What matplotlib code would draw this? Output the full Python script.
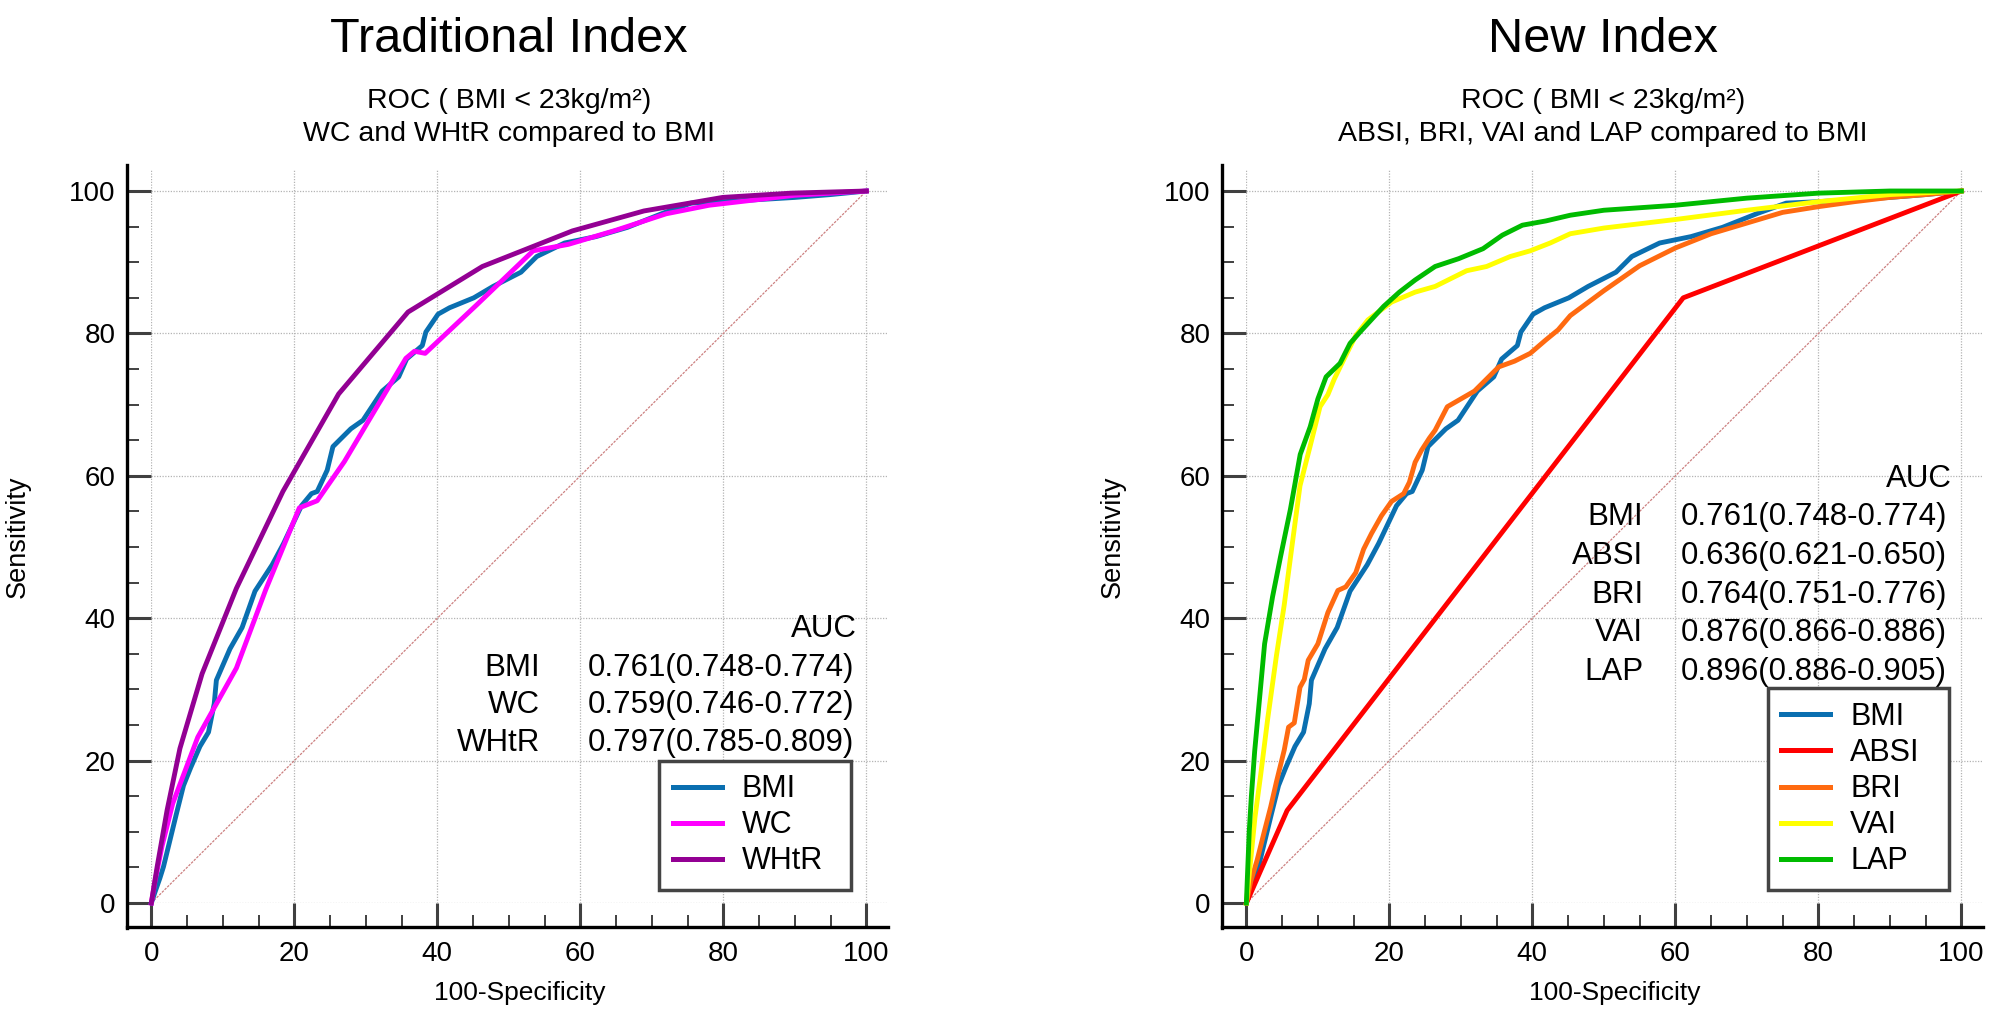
import numpy as np
import matplotlib.pyplot as plt
from matplotlib.lines import Line2D
from matplotlib.ticker import MultipleLocator

plt.rcParams['font.family'] = ['Liberation Sans', 'DejaVu Sans']

# ---- ROC points (100-Specificity, Sensitivity) ----
bmi_x = [0, 0.5, 1.2, 1.7, 2.6, 3.5, 4.5, 5.5, 6.8, 8.0, 8.8, 9.1, 11.0, 12.7, 14.5, 16.9,
         18.5, 21.0, 22.4, 23.2, 24.6, 25.4, 27.9, 29.6, 32.3, 34.6, 35.7, 37.9, 38.4, 40.1,
         41.7, 45.1, 47.8, 51.7, 53.9, 57.8, 62.2, 66.6, 71.6, 75.5, 80, 85, 90, 95, 100]
bmi_y = [0, 1.5, 3.5, 5.1, 8.8, 12.5, 16.5, 19.0, 22.0, 24.0, 28.0, 31.3, 35.7, 38.7, 43.8, 47.5,
         50.5, 55.8, 57.5, 57.8, 60.8, 64.1, 66.6, 67.8, 71.9, 73.9, 76.4, 78.3, 80.2, 82.7,
         83.6, 85.0, 86.6, 88.6, 90.8, 92.7, 93.6, 94.9, 96.9, 98.3, 98.5, 98.8, 99.1, 99.5, 100]

wc_x = [0, 0.5, 1.5, 3.0, 6.5, 11.9, 16.0, 20.7, 23.2, 27.0, 31.2, 35.6, 36.8, 38.3, 45.5,
        53.4, 58.3, 65.0, 72.0, 78.0, 90.0, 100]
wc_y = [0, 3.0, 8.0, 14.0, 23.3, 33.0, 44.0, 55.5, 56.5, 62.0, 69.1, 76.5, 77.5, 77.2, 84.0,
        91.6, 92.5, 94.5, 96.8, 98.0, 99.4, 100]

whtr_x = [0, 0.8, 2.2, 4.0, 7.1, 11.9, 18.4, 26.2, 35.9, 46.3, 58.9, 68.9, 79.9, 89.5, 100]
whtr_y = [0, 5.0, 13.0, 21.7, 32.2, 44.2, 57.8, 71.5, 83.0, 89.4, 94.4, 97.2, 99.1, 99.7, 100]

absi_x = [0, 5.7, 61.1, 100]
absi_y = [0, 13.0, 85.0, 100]

bri_x = [0, 0.6, 1.5, 2.5, 3.4, 4.2, 5.3, 5.9, 6.7, 7.5, 8.1, 8.65, 10.0, 11.4, 12.8, 13.9,
         15.3, 16.4, 17.5, 18.9, 20.3, 22.0, 22.8, 23.6, 24.5, 25.6, 26.4, 28.1, 30.0, 31.9,
         33.3, 35.3, 37.5, 39.7, 41.9, 43.6, 45.3, 50, 55, 60, 65, 70, 75, 80, 85, 90, 95, 100]
bri_y = [0, 3.0, 6.0, 10.0, 13.5, 17.0, 21.5, 24.7, 25.3, 30.3, 31.4, 34.1, 36.4, 40.8, 43.9, 44.4,
         46.4, 49.7, 51.9, 54.4, 56.4, 57.5, 59.1, 61.9, 63.6, 65.3, 66.4, 69.7, 70.8, 71.9,
         73.3, 75.3, 76.1, 77.2, 79.1, 80.5, 82.5, 86.0, 89.5, 92.0, 94.0, 95.5, 97.0, 97.8,
         98.5, 99.1, 99.5, 100]

vai_x = [0, 0.5, 1.2, 2.0, 3.0, 4.2, 5.3, 6.4, 7.5, 8.9, 10.3, 11.4, 12.3, 13.9, 15.3, 17.0,
         20.3, 23.6, 26.4, 28.6, 30.8, 33.6, 36.9, 39.7, 42.5, 45.3, 50, 60, 70, 80, 90, 100]
vai_y = [0, 5.0, 12.0, 18.0, 26.0, 34.7, 41.9, 50.3, 58.6, 64.1, 69.7, 71.4, 73.6, 76.9, 79.7, 81.9,
         84.4, 85.8, 86.6, 87.7, 88.8, 89.4, 90.8, 91.6, 92.7, 94.0, 94.8, 96.0, 97.3, 98.5, 99.5, 100]

lap_x = [0, 0.2, 0.4, 0.7, 1.16, 2.55, 3.66, 4.77, 6.16, 7.53, 8.93, 10.0, 11.15, 13.1, 14.5,
         15.9, 19.2, 21.4, 23.6, 26.4, 29.7, 33.1, 35.8, 38.6, 41.9, 45.3, 50, 60, 70, 80, 90, 100]
lap_y = [0, 5.0, 10.0, 15.0, 21.3, 36.4, 43.0, 48.6, 55.3, 63.0, 66.9, 70.8, 73.9, 75.8, 78.6,
         80.2, 83.8, 85.8, 87.5, 89.4, 90.5, 91.9, 93.8, 95.2, 95.8, 96.6, 97.3, 98.0, 99.0, 99.7, 100, 100]

left_names = ['BMI', 'WC', 'WHtR']
left_auc = ['0.761(0.748-0.774)', '0.759(0.746-0.772)', '0.797(0.785-0.809)']
right_names = ['BMI', 'ABSI', 'BRI', 'VAI', 'LAP']
right_auc = ['0.761(0.748-0.774)', '0.636(0.621-0.650)', '0.764(0.751-0.776)',
             '0.876(0.866-0.886)', '0.896(0.886-0.905)']

colors = {'BMI': '#0a6fb0', 'WC': '#ff00ff', 'WHtR': '#930093', 'ABSI': '#ff0000',
          'BRI': '#ff6a10', 'VAI': '#ffff00', 'LAP': '#00bb00'}

fig = plt.figure(figsize=(19.91, 10.22), dpi=100)
ax1 = fig.add_axes([0.0760, 0.1164, 0.3699, 0.7176])
ax2 = fig.add_axes([0.6260, 0.1164, 0.3699, 0.7176])


def style_axes(ax):
    ax.set_xlim(0, 103)
    ax.set_ylim(0, 103)
    ax.spines['top'].set_visible(False)
    ax.spines['right'].set_visible(False)
    for s in ['left', 'bottom']:
        ax.spines[s].set_position(('outward', 17.6))
        ax.spines[s].set_linewidth(2.4)
    ax.spines['left'].set_bounds(-3.45, 103.6)
    ax.spines['bottom'].set_bounds(-3.4, 103)
    ax.set_xticks([0, 20, 40, 60, 80, 100])
    ax.set_yticks([0, 20, 40, 60, 80, 100])
    ax.xaxis.set_minor_locator(MultipleLocator(5))
    ax.yaxis.set_minor_locator(MultipleLocator(5))
    ax.tick_params(which='major', direction='in', length=17.6, width=2.2,
                   color='#404040', labelsize=20)
    ax.tick_params(axis='y', which='major', pad=8)
    ax.tick_params(axis='x', which='major', pad=10)
    ax.tick_params(which='minor', direction='in', length=8.4, width=1.4, color='#404040')
    ax.grid(True, which='major', color='#b4b4b4', linestyle=(0, (1, 1.2)), linewidth=0.9)
    ax.set_axisbelow(True)
    ax.set_xlabel('100-Specificity', fontsize=19, labelpad=10)
    ax.set_ylabel('Sensitivity', fontsize=19.5, labelpad=28)
    ax.plot([0, 100], [0, 100], color='#cc8080', lw=0.9, linestyle=(0, (2, 1)), zorder=2)


def add_legend(ax, names, x0, width):
    handles = [Line2D([], [], color=colors[n], lw=3.6) for n in names]
    leg = ax.legend(handles, names, loc='lower left', mode='expand',
                    bbox_to_anchor=(x0, 1.8, width, 0), bbox_transform=ax.transData,
                    fontsize=22, frameon=True, fancybox=False, framealpha=1,
                    handlelength=1.6, handletextpad=0.65, borderpad=0.45,
                    labelspacing=0.2, borderaxespad=0)
    leg.get_frame().set_edgecolor('#444444')
    leg.get_frame().set_linewidth(2.5)


style_axes(ax1)
style_axes(ax2)

ax1.plot(bmi_x, bmi_y, color=colors['BMI'], lw=3.5, clip_on=False, zorder=3)
ax1.plot(wc_x, wc_y, color=colors['WC'], lw=3.5, clip_on=False, zorder=4)
ax1.plot(whtr_x, whtr_y, color=colors['WHtR'], lw=3.5, clip_on=False, zorder=5)

ax2.plot(bmi_x, bmi_y, color=colors['BMI'], lw=3.5, clip_on=False, zorder=3)
ax2.plot(absi_x, absi_y, color=colors['ABSI'], lw=3.5, clip_on=False, zorder=4)
ax2.plot(bri_x, bri_y, color=colors['BRI'], lw=3.5, clip_on=False, zorder=5)
ax2.plot(vai_x, vai_y, color=colors['VAI'], lw=3.5, clip_on=False, zorder=6)
ax2.plot(lap_x, lap_y, color=colors['LAP'], lw=3.5, clip_on=False, zorder=7)

# AUC tables
ax1.text(98.7, 37.4, 'AUC', fontsize=22.5, ha='right', va='baseline')
for i, (n, v) in enumerate(zip(left_names, left_auc)):
    yy = 31.9 - i * 5.25
    ax1.text(54.4, yy, n, fontsize=22.5, ha='right', va='baseline')
    ax1.text(61.0, yy, v, fontsize=22.5, ha='left', va='baseline')

ax2.text(98.6, 58.5, 'AUC', fontsize=22.5, ha='right', va='baseline')
for i, (n, v) in enumerate(zip(right_names, right_auc)):
    yy = 53.1 - i * 5.45
    ax2.text(55.5, yy, n, fontsize=22.5, ha='right', va='baseline')
    ax2.text(60.7, yy, v, fontsize=22.5, ha='left', va='baseline')

add_legend(ax1, left_names, 71.0, 26.85)
add_legend(ax2, right_names, 72.9, 25.3)

# titles
for cx, big, sub in [(0.2556, 'Traditional Index', 'WC and WHtR compared to BMI'),
                     (0.8050, 'New Index', 'ABSI, BRI, VAI and LAP compared to BMI')]:
    fig.text(cx, 1 - 52 / 1022, big, fontsize=35, ha='center', va='baseline')
    fig.text(cx, 1 - 108 / 1022, 'ROC ( BMI < 23kg/m²)', fontsize=20.5, ha='center', va='baseline')
    fig.text(cx, 1 - 141 / 1022, sub, fontsize=20.5, ha='center', va='baseline')

fig.savefig('out.png', dpi=100)
